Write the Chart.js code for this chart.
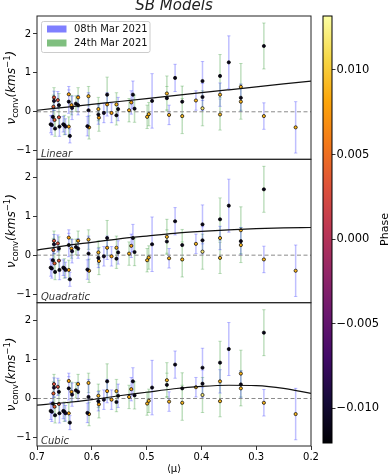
<!DOCTYPE html>
<html>
<head>
<meta charset="utf-8">
<script src="https://cdn.jsdelivr.net/npm/chart.js@4.4.0/dist/chart.umd.min.js"></script>
<style>
  html, body { margin: 0; padding: 0; background: #fff; }
  #wrap { position: relative; width: 390px; height: 476px; overflow: hidden; }
  #wrap canvas { position: absolute; left: 0; top: 0; }
</style>
</head>
<body>
<div id="wrap">
  <canvas id="panel0" width="390" height="476"></canvas>
  <canvas id="panel1" width="390" height="476"></canvas>
  <canvas id="panel2" width="390" height="476"></canvas>
  <canvas id="cbar" width="390" height="476"></canvas>
</div>
<script>
// 08th Mar 2021 (blue error bars)
const muMar08 = [0.675, 0.673, 0.669, 0.671, 0.662, 0.659, 0.652, 0.648, 0.642, 0.642, 0.640, 0.636, 0.625, 0.606, 0.608, 0.588, 0.578, 0.572, 0.564, 0.552, 0.528, 0.525, 0.490, 0.459, 0.448, 0.410, 0.398, 0.398, 0.366, 0.350, 0.328, 0.286, 0.228];
const vMar08 = [-0.32, -0.34, 0.28, -0.13, 0.30, -0.38, -0.32, -0.38, 0.45, 0.26, -0.62, 0.10, 0.17, 0.04, -0.37, -0.07, -0.03, 0.19, -0.03, 0.07, 0.24, 0.44, 0.28, -0.08, 0.87, 0.29, 0.79, 0.38, 0.44, 1.27, 0.36, -0.11, -0.40];
const errMar08 = [0.22, 0.25, 0.25, 0.25, 0.22, 0.25, 0.20, 0.20, 0.20, 0.30, 0.18, 0.30, 0.25, 0.45, 0.25, 0.25, 0.25, 0.30, 0.25, 0.30, 0.30, 0.35, 0.70, 0.25, 0.35, 0.25, 0.50, 0.35, 0.30, 0.68, 0.35, 0.34, 0.66];
const phaseMar08 = [-0.011, -0.011, -0.010, -0.011, 0.003, -0.011, -0.011, -0.010, 0.008, -0.011, -0.011, -0.010, -0.011, -0.011, -0.011, -0.011, -0.010, 0.008, 0.008, -0.011, 0.008, -0.011, -0.011, 0.009, -0.011, 0.009, -0.011, -0.011, 0.009, -0.011, -0.011, 0.009, 0.009];

// 24th Mar 2021 (green error bars)
const muMar24 = [0.670, 0.669, 0.667, 0.668, 0.660, 0.660, 0.650, 0.642, 0.637, 0.629, 0.625, 0.606, 0.605, 0.588, 0.587, 0.572, 0.555, 0.555, 0.532, 0.522, 0.499, 0.496, 0.463, 0.463, 0.435, 0.435, 0.398, 0.366, 0.366, 0.328, 0.328, 0.286];
const vMar24 = [0.13, 0.37, -0.43, -0.21, 0.17, -0.14, -0.34, -0.38, 0.17, 0.21, 0.37, 0.40, -0.40, 0.07, -0.15, 0.44, 0.19, -0.09, 0.04, 0.08, -0.13, -0.06, 0.47, 0.35, 0.26, -0.11, 0.09, 0.92, -0.07, 0.64, 0.26, 1.69];
const errMar24 = [0.30, 0.25, 0.20, 0.25, 0.30, 0.25, 0.25, 0.25, 0.25, 0.20, 0.25, 0.25, 0.30, 0.30, 0.35, 0.45, 0.30, 0.25, 0.30, 0.35, 0.30, 0.30, 0.45, 0.30, 0.40, 0.45, 0.45, 0.55, 0.40, 0.60, 0.45, 0.59];
const phaseMar24 = [0.004, 0.003, -0.011, 0.004, -0.011, 0.003, -0.011, 0.008, 0.008, -0.011, 0.008, 0.009, 0.008, 0.009, 0.008, -0.011, 0.009, -0.011, 0.009, -0.011, 0.009, 0.009, 0.009, -0.011, -0.011, 0.009, 0.012, -0.011, 0.009, 0.009, 0.009, -0.011];

// model curves
const muGrid = [0.70, 0.65, 0.60, 0.55, 0.50, 0.45, 0.40, 0.35, 0.30, 0.25, 0.20];
const linearFit = [0.04, 0.115, 0.19, 0.265, 0.34, 0.415, 0.49, 0.565, 0.64, 0.715, 0.79];
const quadFit = [0.13, 0.24, 0.33, 0.42, 0.49, 0.56, 0.61, 0.65, 0.68, 0.70, 0.71];
const cubicFit = [-0.17, -0.11, -0.03, 0.07, 0.16, 0.25, 0.31, 0.34, 0.33, 0.26, 0.13];

const panelNames = ['Linear', 'Quadratic', 'Cubic'];
const xTicks = [0.7, 0.6, 0.5, 0.4, 0.3, 0.2];
const yTicks = [-1, 0, 1, 2];
const phaseTicks = [-0.010, -0.005, 0.000, 0.005, 0.010];
const phaseMin = -0.01205;
const phaseMax = 0.01319;

const FONT = "'DejaVu Sans', sans-serif";
const fits = [linearFit, quadFit, cubicFit];
const panelEdges = [16, 159.3, 302.7, 446];

// inferno colormap stops
const inferno = ['#000004', '#160b39', '#420a68', '#6a176e', '#932667', '#bc3754', '#dd513a', '#f37819', '#fca50a', '#f6d746', '#fcffa4'];

function hexRgb(h) {
    return [1, 3, 5].map(i => parseInt(h.substr(i, 2), 16));
}

function phaseColor(p) {
    let t = (p - phaseMin) / (phaseMax - phaseMin);
    t = Math.max(0, Math.min(1, t)) * 10;
    const i = Math.min(9, Math.floor(t));
    const f = t - i;
    const a = hexRgb(inferno[i]), b = hexRgb(inferno[i + 1]);
    return 'rgb(' + a.map((v, k) => Math.round(v + (b[k] - v) * f)).join(',') + ')';
}

function errorBars(mu, v, err) {
    const pts = [];
    mu.forEach((m, i) => {
        pts.push({ x: m, y: v[i] - err[i] }, { x: m, y: v[i] + err[i] }, { x: m, y: null });
    });
    return pts;
}

function drawYLabel(ctx, cx, cy) {
    const parts = [
        { t: '\u03bd', f: 'italic 12px ' + FONT, dy: 0 },
        { t: 'conv', f: '8.5px ' + FONT, dy: 3 },
        { t: '(kms', f: 'italic 12px ' + FONT, dy: 0 },
        { t: '\u22121', f: '8.5px ' + FONT, dy: -5 },
        { t: ')', f: 'italic 12px ' + FONT, dy: 0 }
    ];
    ctx.save();
    ctx.translate(cx, cy);
    ctx.rotate(-Math.PI / 2);
    ctx.fillStyle = '#000';
    ctx.textBaseline = 'alphabetic';
    ctx.textAlign = 'left';
    let total = 0;
    parts.forEach(p => { ctx.font = p.f; p.w = ctx.measureText(p.t).width; total += p.w; });
    let x = -total / 2;
    parts.forEach(p => {
        ctx.font = p.f;
        ctx.fillText(p.t, x, 4 + p.dy);
        x += p.w;
    });
    ctx.restore();
}

function drawLegend(ctx) {
    ctx.save();
    ctx.fillStyle = 'rgba(255,255,255,0.8)';
    ctx.strokeStyle = '#cccccc';
    ctx.lineWidth = 1;
    ctx.beginPath();
    ctx.roundRect(41.5, 21.5, 108.5, 31, 2);
    ctx.fill();
    ctx.stroke();
    ctx.fillStyle = 'rgba(0,0,255,0.5)';
    ctx.fillRect(47, 25.5, 19.5, 7);
    ctx.fillStyle = 'rgba(0,128,0,0.5)';
    ctx.fillRect(47, 39.5, 19.5, 7);
    ctx.fillStyle = '#111';
    ctx.font = '10px ' + FONT;
    ctx.textBaseline = 'middle';
    ctx.textAlign = 'left';
    ctx.fillText('08th Mar 2021', 74, 29.5);
    ctx.fillText('24th Mar 2021', 74, 43.5);
    ctx.restore();
}

function makePanel(k) {
    const top = panelEdges[k];
    const bottom = panelEdges[k + 1];
    const last = k === 2;
    const xH = last ? 30 : 0;

    new Chart(document.getElementById('panel' + k), {
        type: 'scatter',
        data: {
            datasets: [
                {
                    type: 'line',
                    data: muGrid.map((m, i) => ({ x: m, y: fits[k][i] })),
                    borderColor: '#111',
                    borderWidth: 1.2,
                    pointRadius: 0,
                    cubicInterpolationMode: 'monotone',
                    order: 0
                },
                {
                    data: muMar08.map((m, i) => ({ x: m, y: vMar08[i] })),
                    pointBackgroundColor: phaseMar08.map(phaseColor),
                    pointBorderColor: '#000',
                    pointBorderWidth: 0.7,
                    pointRadius: 1.6,
                    order: 1
                },
                {
                    data: muMar24.map((m, i) => ({ x: m, y: vMar24[i] })),
                    pointBackgroundColor: phaseMar24.map(phaseColor),
                    pointBorderColor: '#000',
                    pointBorderWidth: 0.7,
                    pointRadius: 1.6,
                    order: 1
                },
                {
                    type: 'line',
                    data: [{ x: 0.7, y: 0 }, { x: 0.2, y: 0 }],
                    borderColor: '#8a8a8a',
                    borderDash: [4, 2.5],
                    borderWidth: 1,
                    pointRadius: 0,
                    order: 2
                },
                {
                    type: 'line',
                    data: errorBars(muMar08, vMar08, errMar08),
                    borderColor: 'rgba(0,0,255,0.25)',
                    borderWidth: 1.5,
                    spanGaps: false,
                    pointStyle: 'line',
                    pointRadius: 1.7,
                    pointBorderColor: 'rgba(0,0,255,0.25)',
                    pointBorderWidth: 1,
                    order: 3
                },
                {
                    type: 'line',
                    data: errorBars(muMar24, vMar24, errMar24),
                    borderColor: 'rgba(0,128,0,0.25)',
                    borderWidth: 1.5,
                    spanGaps: false,
                    pointStyle: 'line',
                    pointRadius: 1.7,
                    pointBorderColor: 'rgba(0,128,0,0.25)',
                    pointBorderWidth: 1,
                    order: 3
                }
            ]
        },
        options: {
            responsive: false,
            animation: false,
            devicePixelRatio: 1,
            layout: { padding: { left: 0, right: 79, top: top, bottom: 476 - bottom - xH } },
            plugins: { legend: { display: false }, tooltip: { enabled: false } },
            scales: {
                x: {
                    type: 'linear',
                    reverse: true,
                    min: 0.2,
                    max: 0.7,
                    afterBuildTicks: s => { s.ticks = xTicks.map(v => ({ value: v })); },
                    afterFit: s => { s.height = xH; },
                    grid: { display: last, drawOnChartArea: false, tickLength: 4, tickColor: '#000', tickWidth: 0.8 },
                    border: { display: false },
                    ticks: {
                        display: last,
                        font: { family: FONT, size: 10 },
                        color: '#000',
                        padding: 1,
                        maxRotation: 0,
                        autoSkip: false,
                        callback: v => v.toFixed(1)
                    }
                },
                y: {
                    min: -1.22,
                    max: 2.46,
                    afterBuildTicks: s => { s.ticks = yTicks.map(v => ({ value: v })); },
                    afterFit: s => { s.width = 37; },
                    grid: { drawOnChartArea: false, tickLength: 4, tickColor: '#000', tickWidth: 0.8 },
                    border: { display: false },
                    ticks: {
                        font: { family: FONT, size: 10 },
                        color: '#000',
                        padding: 2,
                        callback: v => v < 0 ? '\u2212' + (-v) : String(v)
                    }
                }
            }
        },
        plugins: [{
            id: 'deco' + k,
            afterDraw(chart) {
                const ctx = chart.ctx;
                const a = chart.chartArea;
                ctx.save();
                ctx.strokeStyle = '#222';
                ctx.lineWidth = 1;
                ctx.strokeRect(a.left, a.top, a.right - a.left, a.bottom - a.top);
                ctx.font = 'italic 10px ' + FONT;
                ctx.fillStyle = '#333';
                ctx.textBaseline = 'middle';
                ctx.textAlign = 'left';
                ctx.fillText(panelNames[k], a.left + 4, a.bottom - 5);
                ctx.restore();
                drawYLabel(ctx, 11, (a.top + a.bottom) / 2);
                if (k === 0) {
                    ctx.save();
                    ctx.font = 'italic 15px ' + FONT;
                    ctx.fillStyle = '#222';
                    ctx.textAlign = 'center';
                    ctx.textBaseline = 'middle';
                    ctx.fillText('SB Models', (a.left + a.right) / 2, 6.5);
                    ctx.restore();
                    drawLegend(ctx);
                }
                if (last) {
                    ctx.save();
                    ctx.font = '10px ' + FONT;
                    ctx.fillStyle = '#000';
                    ctx.textAlign = 'center';
                    ctx.textBaseline = 'middle';
                    ctx.fillText('\u27e8\u03bc\u27e9', (a.left + a.right) / 2, 469);
                    ctx.restore();
                }
            }
        }]
    });
}

[0, 1, 2].forEach(makePanel);

// colour bar
new Chart(document.getElementById('cbar'), {
    type: 'scatter',
    data: { datasets: [] },
    options: {
        responsive: false,
        animation: false,
        devicePixelRatio: 1,
        layout: { padding: { left: 323, right: 10, top: 16, bottom: 33 } },
        plugins: { legend: { display: false }, tooltip: { enabled: false } },
        scales: {
            x: { display: false },
            y: {
                position: 'right',
                min: phaseMin,
                max: phaseMax,
                afterBuildTicks: s => { s.ticks = phaseTicks.map(v => ({ value: v })); },
                afterFit: s => { s.width = 48; },
                grid: { drawOnChartArea: false, tickLength: 3.5, tickColor: '#000', tickWidth: 0.8 },
                border: { display: false },
                ticks: {
                    font: { family: FONT, size: 11.5 },
                    color: '#000',
                    padding: 1,
                    callback: v => (v < 0 ? '\u2212' : '') + Math.abs(v).toFixed(3)
                }
            }
        }
    },
    plugins: [{
        id: 'cbarFill',
        beforeDraw(chart) {
            const ctx = chart.ctx;
            const a = chart.chartArea;
            const g = ctx.createLinearGradient(0, a.bottom, 0, a.top);
            inferno.forEach((c, i) => g.addColorStop(i / (inferno.length - 1), c));
            ctx.save();
            ctx.fillStyle = g;
            ctx.fillRect(a.left, a.top, a.right - a.left, a.bottom - a.top);
            ctx.restore();
        },
        afterDraw(chart) {
            const ctx = chart.ctx;
            const a = chart.chartArea;
            ctx.save();
            ctx.strokeStyle = '#000';
            ctx.lineWidth = 1;
            ctx.strokeRect(a.left, a.top, a.right - a.left, a.bottom - a.top);
            ctx.translate(385, (a.top + a.bottom) / 2);
            ctx.rotate(-Math.PI / 2);
            ctx.font = '11px ' + FONT;
            ctx.fillStyle = '#000';
            ctx.textAlign = 'center';
            ctx.textBaseline = 'middle';
            ctx.fillText('Phase', 0, 0);
            ctx.restore();
        }
    }]
});
</script>
</body>
</html>
